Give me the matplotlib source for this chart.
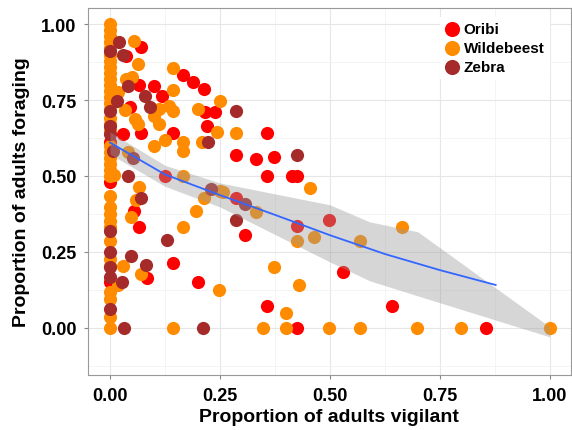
import matplotlib.pyplot as plt

plt.rcParams['font.family'] = ['Liberation Sans', 'DejaVu Sans']

# Group scans: proportion vigilant (x) vs proportion foraging (y)
oribi_x = [0.07, 0.036, 0.166, 0.188, 0.213, 0.066, 0.1, 0.118, 0.045, 0.215,
           0.238, 0.22, 0.03, 0.07, 0.143, 0.0, 0.0, 0.125, 0.054, 0.066,
           0.143, 0.084, 0.0, 0.2, 0.356, 0.286, 0.333, 0.374, 0.356, 0.415,
           0.426, 0.286, 0.308, 0.426, 0.499, 0.531, 0.356, 0.642, 0.426, 0.855]
oribi_y = [0.925, 0.895, 0.832, 0.81, 0.786, 0.80, 0.796, 0.763, 0.727, 0.71,
           0.71, 0.664, 0.638, 0.641, 0.641, 0.612, 0.48, 0.50, 0.385, 0.332,
           0.214, 0.164, 0.151, 0.151, 0.641, 0.57, 0.556, 0.562, 0.50, 0.50,
           0.50, 0.427, 0.306, 0.336, 0.355, 0.184, 0.072, 0.072, 0.0, 0.0]

wilde_x = [0.0] * 36 + [
    0.054, 0.064, 0.143, 0.25, 0.036, 0.05, 0.143, 0.018, 0.034, 0.111,
    0.1, 0.134, 0.143, 0.2, 0.057, 0.063, 0.111, 0.243, 0.1, 0.125,
    0.166, 0.166, 0.209, 0.041, 0.009, 0.166, 0.25, 0.213, 0.066, 0.059,
    0.195, 0.048, 0.166, 0.03, 0.07, 0.018, 0.247, 0.143, 0.256, 0.333,
    0.454, 0.463, 0.426, 0.569, 0.374, 0.429, 0.4, 0.349, 0.4, 0.499,
    0.569, 0.664, 0.698, 0.798, 1.0, 0.286]
wilde_y = [1.0, 0.98, 0.96, 0.94, 0.92, 0.9, 0.88, 0.86, 0.84, 0.82,
           0.8, 0.78, 0.76, 0.74, 0.72, 0.69, 0.67, 0.65, 0.6, 0.58,
           0.56, 0.54, 0.52, 0.5, 0.434, 0.398, 0.375, 0.352, 0.332, 0.286,
           0.227, 0.204, 0.118, 0.095, 0.036, 0.0] + [
    0.944, 0.87, 0.855, 0.747, 0.82, 0.825, 0.783, 0.776, 0.717, 0.72,
    0.697, 0.73, 0.714, 0.72, 0.688, 0.671, 0.67, 0.645, 0.599, 0.618,
    0.612, 0.582, 0.612, 0.579, 0.503, 0.50, 0.45, 0.427, 0.464, 0.42,
    0.385, 0.365, 0.332, 0.204, 0.178, 0.141, 0.125, 0.0, 0.447, 0.382,
    0.46, 0.3, 0.286, 0.286, 0.2, 0.141, 0.049, 0.0, 0.0, 0.0,
    0.0, 0.332, 0.0, 0.0, 0.0, 0.641]

zebra_x = [0.0, 0.0, 0.0, 0.0, 0.0, 0.0, 0.0, 0.0, 0.0,
           0.02, 0.03, 0.041, 0.079, 0.016, 0.09, 0.007, 0.052, 0.041, 0.229,
           0.07, 0.13, 0.048, 0.082, 0.027, 0.032, 0.211, 0.224, 0.286, 0.426,
           0.306, 0.286]
zebra_y = [0.911, 0.714, 0.664, 0.638, 0.319, 0.25, 0.2, 0.168, 0.063,
           0.94, 0.90, 0.796, 0.763, 0.747, 0.727, 0.582, 0.559, 0.50, 0.457,
           0.428, 0.29, 0.237, 0.207, 0.151, 0.0, 0.0, 0.612, 0.714, 0.57,
           0.408, 0.355]

# Smoothed trend and its confidence band
fit_x = [0.0, 0.125, 0.25, 0.375, 0.5, 0.625, 0.75, 0.877]
fit_y = [0.61, 0.505, 0.437, 0.372, 0.305, 0.243, 0.19, 0.141]
band_x = [0.0, 0.125, 0.25, 0.5, 0.59, 0.7, 1.0]
band_hi = [0.645, 0.535, 0.477, 0.405, 0.349, 0.316, 0.003]
band_lo = [0.572, 0.466, 0.398, 0.217, 0.155, 0.105, -0.03]

fig = plt.figure(figsize=(5.72, 4.31), dpi=100)
ax = fig.add_axes([0.153, 0.128, 0.845, 0.851])

pt = dict(s=90, linewidths=0, zorder=3)
ax.scatter(oribi_x, oribi_y, color='#FF0000', label='Oribi', **pt)
ax.scatter(wilde_x, wilde_y, color='#FF8C00', label='Wildebeest', **pt)
ax.scatter(zebra_x, zebra_y, color='#A52A2A', label='Zebra', **pt)

ax.fill_between(band_x, band_lo, band_hi, color='#999999', alpha=0.4,
                linewidth=0, zorder=4)
ax.plot(fit_x, fit_y, color='#3366FF', linewidth=1.3, zorder=5)

ticks = [0, 0.25, 0.5, 0.75, 1.0]
minor = [-0.125, 0.125, 0.375, 0.625, 0.875]
ax.set_xticks(ticks)
ax.set_yticks(ticks)
ax.set_xticks(minor, minor=True)
ax.set_yticks(minor, minor=True)
ax.set_xlim(-0.051, 1.048)
ax.set_ylim(-0.155, 1.053)
ax.set_xticklabels(['%.2f' % t for t in ticks], fontsize=13, fontweight='bold')
ax.set_yticklabels(['%.2f' % t for t in ticks], fontsize=13, fontweight='bold')
ax.grid(which='major', color='#e6e6e6', linewidth=0.8, zorder=0)
ax.grid(which='minor', color='#f2f2f2', linewidth=0.6, zorder=0)
ax.set_axisbelow(True)
ax.tick_params(which='major', length=3, color='#888888')
ax.tick_params(axis='x', which='major', pad=6)
ax.tick_params(axis='y', which='major', pad=5)
ax.tick_params(which='minor', length=0)
for side in ax.spines.values():
    side.set_color('#999999')
    side.set_linewidth(0.8)

ax.set_xlabel('Proportion of adults vigilant', fontsize=14, fontweight='bold',
              labelpad=3)
ax.set_ylabel('Proportion of adults foraging', fontsize=14, fontweight='bold',
              labelpad=8)

leg = ax.legend(loc='upper left', bbox_to_anchor=(0.729, 0.975),
                borderaxespad=0, frameon=True, fancybox=False,
                edgecolor='white', framealpha=1,
                prop={'size': 11, 'weight': 'bold'}, handlelength=1.0,
                handletextpad=0.25, labelspacing=0.32, borderpad=0.3,
                markerscale=1.15)
leg.set_zorder(6)

fig.savefig('out.png', dpi=100)
